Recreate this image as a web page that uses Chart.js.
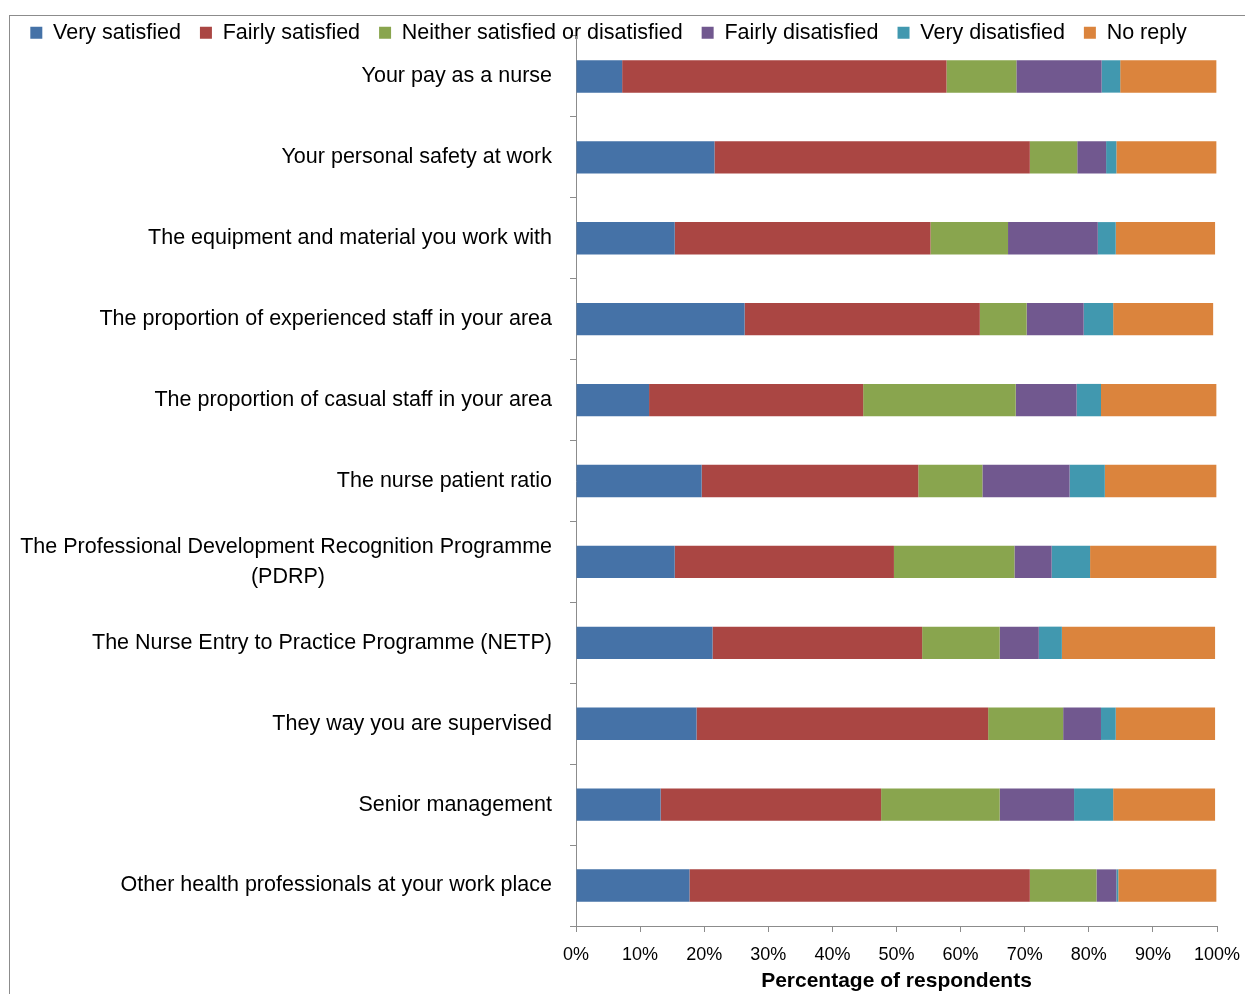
<!DOCTYPE html>
<html>
<head>
<meta charset="utf-8">
<script src="https://cdn.jsdelivr.net/npm/chart.js@4/dist/chart.umd.min.js"></script>
<style>
  html, body { margin: 0; padding: 0; background: #fff; }
  #wrap { position: relative; width: 1245px; height: 994px; overflow: hidden; }
  #frame { position: absolute; left: 9px; top: 15px; width: 1400px; height: 1200px; border-left: 1px solid #8c8c8c; border-top: 1px solid #8c8c8c; }
  canvas { position: absolute; left: 0; top: 0; }
</style>
</head>
<body>
<div id="wrap">
  <div id="frame"></div>
  <canvas id="c" width="1245" height="994"></canvas>
</div>
<script>
const categories = [
  "Your pay as a nurse",
  "Your personal safety at work",
  "The equipment and material you work with",
  "The proportion of experienced staff in your area",
  "The proportion of casual staff in your area",
  "The nurse patient ratio",
  ["The Professional Development Recognition Programme", "(PDRP)"],
  "The Nurse Entry to Practice Programme (NETP)",
  "They way you are supervised",
  "Senior management",
  "Other health professionals at your work place"
];
const seriesNames = ["Very satisfied", "Fairly satisfied", "Neither satisfied or disatisfied", "Fairly disatisfied", "Very disatisfied", "No reply"];
const verySatisfied    = [7.2, 21.6, 15.4, 26.3, 11.4, 19.6, 15.4, 21.3, 18.8, 13.2, 17.7];
const fairlySatisfied  = [50.6, 49.2, 39.9, 36.7, 33.4, 33.8, 34.2, 32.7, 45.5, 34.4, 53.1];
const neither          = [10.9, 7.4, 12.1, 7.3, 23.8, 10.0, 18.8, 12.1, 11.7, 18.5, 10.4];
const fairlyDis        = [13.3, 4.5, 14.0, 8.9, 9.5, 13.6, 5.8, 6.1, 5.9, 11.6, 3.1];
const veryDis          = [2.9, 1.6, 2.8, 4.6, 3.8, 5.5, 6.0, 3.6, 2.3, 6.1, 0.3];
const noReply          = [15.0, 15.6, 15.5, 15.6, 18.0, 17.4, 19.7, 23.9, 15.5, 15.9, 15.3];
const xTicks = [0, 10, 20, 30, 40, 50, 60, 70, 80, 90, 100];
const colors = ["#4572A7", "#AA4643", "#89A54E", "#71588F", "#4198AF", "#DB843D"];

const FONT = "'Liberation Sans', Arial, sans-serif";
const LABEL_SIZE = 21.5;

const measureCtx = document.createElement('canvas').getContext('2d');
measureCtx.font = LABEL_SIZE + "px " + FONT;

const values = [verySatisfied, fairlySatisfied, neither, fairlyDis, veryDis, noReply];
const datasets = seriesNames.map((n, i) => ({
  label: n,
  data: values[i],
  backgroundColor: colors[i],
  borderWidth: 0,
  barPercentage: 0.4,
  categoryPercentage: 1.0
}));

const legendFix = {
  id: 'legendFix',
  afterInit(chart) {
    const lg = chart.legend;
    if (lg && !lg._fixed) {
      const orig = lg.fit.bind(lg);
      lg.fit = function () { orig(); this.height = 33; };
      lg._fixed = true;
    }
  },
  afterLayout(chart) {
    const lg = chart.legend;
    if (lg) { lg.bottom = lg.top + 60; lg.height = 60; }
  }
};

new Chart(document.getElementById('c'), {
  type: 'bar',
  data: { labels: categories, datasets },
  plugins: [legendFix],
  options: {
    indexAxis: 'y',
    responsive: false,
    animation: false,
    layout: { padding: { top: 3, left: 0, right: 28, bottom: 0 } },
    plugins: {
      legend: {
        position: 'top',
        labels: {
          color: '#000',
          font: { family: FONT, size: 21.5 },
          boxWidth: 12, boxHeight: 12,
          padding: 19
        }
      },
      tooltip: { enabled: false }
    },
    scales: {
      x: {
        stacked: true,
        min: 0, max: 100,
        afterBuildTicks(scale) { scale.ticks = xTicks.map(v => ({ value: v })); },
        ticks: {
          color: '#000',
          font: { family: FONT, size: 18 },
          padding: 12,
          maxRotation: 0,
          callback: v => v + '%'
        },
        grid: { drawOnChartArea: false, tickLength: 6, color: '#8c8c8c' },
        border: { color: '#8c8c8c', width: 1 },
        title: {
          display: true,
          text: 'Percentage of respondents',
          color: '#000',
          font: { family: FONT, size: 21, weight: 'bold' },
          padding: { top: 2, bottom: 0 }
        },
        afterFit(scale) {
          scale.height = 994 - 926;
          scale.paddingRight = 0;
          scale.paddingLeft = 0;
        }
      },
      y: {
        stacked: true,
        ticks: {
          color: '#000',
          font: { family: FONT, size: LABEL_SIZE, lineHeight: 1.4 },
          padding: 18,
          autoSkip: false,
          callback: function (value) {
            const lab = this.getLabelForValue(value);
            if (Array.isArray(lab)) {
              const w = lab.map(s => measureCtx.measureText(s).width);
              const maxW = Math.max(...w);
              const sp = measureCtx.measureText(' ').width;
              return lab.map((s, i) => s + ' '.repeat(Math.round((maxW - w[i]) / 2 / sp)));
            }
            return lab;
          }
        },
        grid: { offset: true, drawOnChartArea: false, tickLength: 6, color: '#8c8c8c' },
        border: { color: '#8c8c8c', width: 1 },
        afterFit(scale) { scale.width = 576; }
      }
    }
  }
});
</script>
</body>
</html>
